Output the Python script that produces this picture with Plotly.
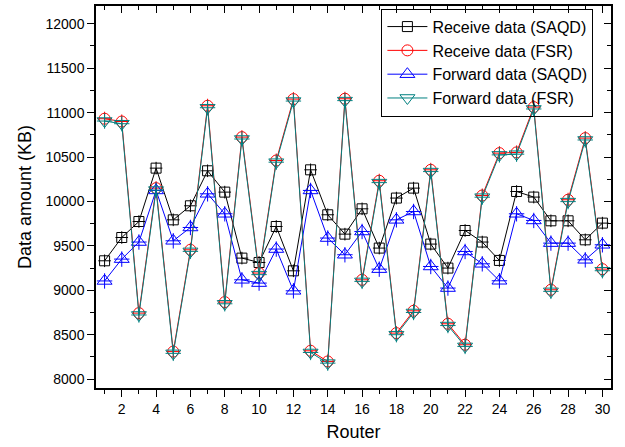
import plotly.graph_objects as go

routers = list(range(1, 31))
receive_saqd = [9332, 9594, 9774, 10375, 9793, 9951, 10345, 10105, 9362, 9313,
                9718, 9219, 10356, 9850, 9632, 9917, 9475, 10038, 10150, 9520,
                9250, 9673, 9543, 9336, 10112, 10049, 9782, 9782, 9568, 9756]
receive_fsr = [10931, 10900, 8743, 10150, 8310, 9456, 11077, 8867, 10724, 9194,
               10461, 11152, 8319, 8199, 11156, 9118, 10233, 8518, 8769, 10356,
               8623, 8387, 10067, 10544, 10552, 11062, 9006, 10019, 10713, 9238]
forward_saqd = [9105, 9351, 9543, 10124, 9557, 9707, 10086, 9861, 9118, 9081,
                9464, 8994, 10124, 9588, 9400, 9662, 9238, 9793, 9887, 9268,
                9025, 9437, 9298, 9107, 9861, 9786, 9531, 9531, 9343, 9512]
forward_fsr = [10905, 10875, 8722, 10128, 8290, 9438, 11055, 8848, 10703, 9176,
               10442, 11130, 8300, 8180, 11135, 9100, 10212, 8500, 8750, 10336,
               8603, 8368, 10048, 10524, 10532, 11041, 8988, 9998, 10692, 9220]

series = [
    ("Receive data (SAQD)", receive_saqd, "#000000", "square-open", 10, "cross-thin-open", 9),
    ("Receive data (FSR)", receive_fsr, "#FF0000", "circle-open", 11, "cross-thin-open", 10),
    ("Forward data (SAQD)", forward_saqd, "#0000FF", "triangle-up-open", 13, "cross-thin-open", 11),
    ("Forward data (FSR)", forward_fsr, "#008080", "triangle-down-open", 13, "cross-thin-open", 11),
]

FONT = "Liberation Sans, Arial"

fig = go.Figure()
for name, vals, col, sym, sz, sym2, sz2 in series:
    fig.add_trace(go.Scatter(
        x=routers, y=vals, name=name, mode="lines+markers",
        line=dict(color=col, width=1),
        marker=dict(symbol=sym, size=sz, color=col, line=dict(color=col, width=1)),
        legendgroup=name,
    ))
    fig.add_trace(go.Scatter(
        x=routers, y=vals, mode="markers", showlegend=False, legendgroup=name,
        marker=dict(symbol=sym2, size=sz2, color=col, line=dict(color=col, width=1)),
        hoverinfo="skip",
    ))

axis_common = dict(showgrid=False, zeroline=False, showline=True, linecolor="black",
                   linewidth=1.5, tickcolor="black", tickwidth=1,
                   tickfont=dict(family=FONT, size=14, color="black"))

fig.update_layout(
    width=625, height=447,
    margin=dict(l=96, r=14, t=6, b=59),
    paper_bgcolor="white", plot_bgcolor="white",
    font=dict(family=FONT, color="black"),
    xaxis=dict(range=[0.5, 30.5], tick0=0, dtick=2, ticks="outside", ticklen=7,
               minor=dict(dtick=1, ticks="outside", ticklen=4, tickcolor="black"),
               title=dict(text="Router", font=dict(size=18), standoff=10),
               **axis_common),
    yaxis=dict(range=[7900, 12200], tick0=8000, dtick=500, ticks="outside", ticklen=7,
               tickformat="d",
               minor=dict(dtick=250, ticks="outside", ticklen=4, tickcolor="black"),
               title=dict(text="Data amount (KB)", font=dict(size=18), standoff=9),
               **axis_common),
    xaxis2=dict(range=[0.5, 30.5], overlaying="x", side="top", tick0=0, dtick=2,
                ticks="inside", ticklen=7, showticklabels=False,
                minor=dict(dtick=1, ticks="inside", ticklen=4, tickcolor="black"),
                **axis_common),
    yaxis2=dict(range=[7900, 12200], overlaying="y", side="right", tick0=8000, dtick=500,
                ticks="inside", ticklen=7, showticklabels=False,
                minor=dict(dtick=250, ticks="inside", ticklen=4, tickcolor="black"),
                **axis_common),
    legend=dict(x=0.760, xanchor="center", y=0.993, yanchor="top",
                bgcolor="rgba(255,255,255,0)", bordercolor="black", borderwidth=1,
                font=dict(size=16, color="black"), tracegroupgap=0,
                itemwidth=40),
    showlegend=True,
)
# invisible trace to activate the mirrored axes
fig.add_trace(go.Scatter(x=[None], y=[None], xaxis="x2", yaxis="y2", showlegend=False, hoverinfo="skip"))

fig.write_html("out.html")
